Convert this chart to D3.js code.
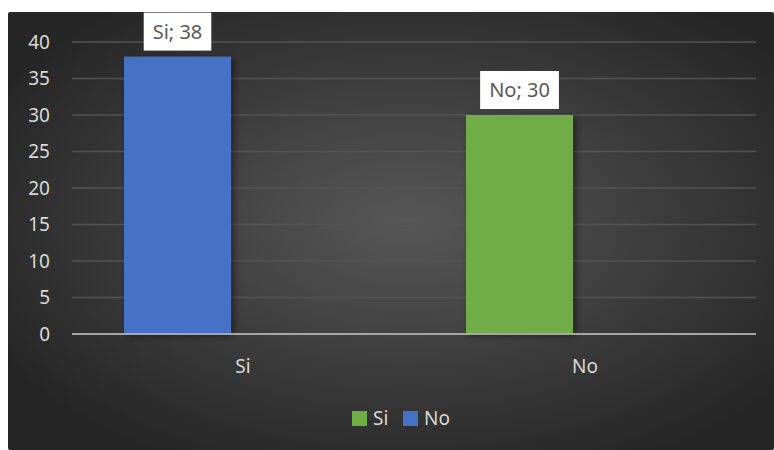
<html>
  <head>
    <meta charset="UTF-8">
    <style>
      body { margin: 0; background: #fff; }
      text { font-family: "Noto Sans", "Open Sans", sans-serif; }
    </style>
  </head>
  <body>
    <script src="https://cdn.jsdelivr.net/npm/d3@7"></script>
    <script>

var width = 774;
var height = 450;

// data
var categories = ["Si", "No"];
var values = [38, 30];
var barColors = ["#4472c4", "#70ad47"];
var labels = ["Si; 38", "No; 30"];
var legendNames = ["Si", "No"];
var legendColors = ["#70ad47", "#4472c4"];
var yTicks = [0, 5, 10, 15, 20, 25, 30, 35, 40];

var svg = d3.select("body").append("svg")
    .attr("width", width).attr("height", height);

var defs = svg.append("defs");
var grad = defs.append("radialGradient")
    .attr("id", "bg")
    .attr("cx", "52%").attr("cy", "48%").attr("r", "62%");
grad.append("stop").attr("offset", "0%").attr("stop-color", "#575757");
grad.append("stop").attr("offset", "100%").attr("stop-color", "#252525");

var shadow = defs.append("filter").attr("id", "shadow")
    .attr("x", "-20%").attr("y", "-20%").attr("width", "140%").attr("height", "140%");
shadow.append("feDropShadow")
    .attr("dx", 3).attr("dy", 2).attr("stdDeviation", 3)
    .attr("flood-color", "#000").attr("flood-opacity", 0.45);

// chart area
svg.append("rect")
    .attr("x", 8).attr("y", 12)
    .attr("width", 766).attr("height", 438)
    .attr("rx", 2)
    .attr("fill", "url(#bg)");

var plot = { left: 72, right: 756, top: 42, bottom: 334 };

var y = d3.scaleLinear().domain([0, 40]).range([plot.bottom, plot.top]);

var x0 = d3.scaleBand().domain(categories).range([plot.left, plot.right]);
// two slots per category, only the first one holds a bar
var x1 = d3.scaleBand().domain([0, 1]).range([0, x0.bandwidth()])
    .paddingInner(0.183).paddingOuter(0.397);

// grid lines
svg.append("g").selectAll("line")
    .data(yTicks.filter(function(d) { return d > 0; }))
    .enter().append("line")
    .attr("x1", plot.left).attr("x2", plot.right)
    .attr("y1", function(d) { return y(d); })
    .attr("y2", function(d) { return y(d); })
    .attr("stroke", "#535353")
    .attr("stroke-width", 1.5);

// y tick labels
svg.append("g").selectAll("text")
    .data(yTicks)
    .enter().append("text")
    .attr("x", 50)
    .attr("y", function(d) { return y(d); })
    .attr("dy", "0.36em")
    .attr("text-anchor", "end")
    .attr("fill", "#d9d9d9")
    .style("font-size", "19px")
    .text(function(d) { return d; });

// bars
svg.append("g").selectAll("rect")
    .data(values)
    .enter().append("rect")
    .attr("x", function(d, i) { return x0(categories[i]) + x1(0); })
    .attr("y", function(d) { return y(d); })
    .attr("width", x1.bandwidth())
    .attr("height", function(d) { return y(0) - y(d); })
    .attr("fill", function(d, i) { return barColors[i]; })
    .attr("filter", "url(#shadow)");

// baseline
svg.append("line")
    .attr("x1", plot.left).attr("x2", plot.right)
    .attr("y1", y(0)).attr("y2", y(0))
    .attr("stroke", "#a6a6a6")
    .attr("stroke-width", 2);

// data labels
var lab = svg.append("g").selectAll("g")
    .data(values)
    .enter().append("g")
    .attr("transform", function(d, i) {
        return "translate(" + (x0(categories[i]) + x1(0) + x1.bandwidth() / 2) + "," + (y(d) - 25) + ")";
    });
lab.append("text")
    .attr("text-anchor", "middle")
    .attr("dy", "0.36em")
    .attr("fill", "#595959")
    .style("font-size", "20px")
    .text(function(d, i) { return labels[i]; })
    .each(function() {
        var b = this.getBBox();
        d3.select(this.parentNode).insert("rect", "text")
            .attr("x", b.x - 9).attr("y", -19)
            .attr("width", b.width + 18).attr("height", 38)
            .attr("fill", "#fff");
    });

// x labels
svg.append("g").selectAll("text")
    .data(categories)
    .enter().append("text")
    .attr("x", function(d) { return x0(d) + x0.bandwidth() / 2; })
    .attr("y", 366)
    .attr("dy", "0.36em")
    .attr("text-anchor", "middle")
    .attr("fill", "#d9d9d9")
    .style("font-size", "19px")
    .text(function(d) { return d; });

// legend
var lx = [352, 403];
var leg = svg.append("g").selectAll("g")
    .data(legendNames)
    .enter().append("g")
    .attr("transform", function(d, i) { return "translate(" + lx[i] + ",411)"; });
leg.append("rect")
    .attr("width", 15).attr("height", 15)
    .attr("fill", function(d, i) { return legendColors[i]; });
leg.append("text")
    .attr("x", 21).attr("y", 7.5)
    .attr("dy", "0.36em")
    .attr("fill", "#d9d9d9")
    .style("font-size", "19px")
    .text(function(d) { return d; });

    </script>
  </body>
</html>
